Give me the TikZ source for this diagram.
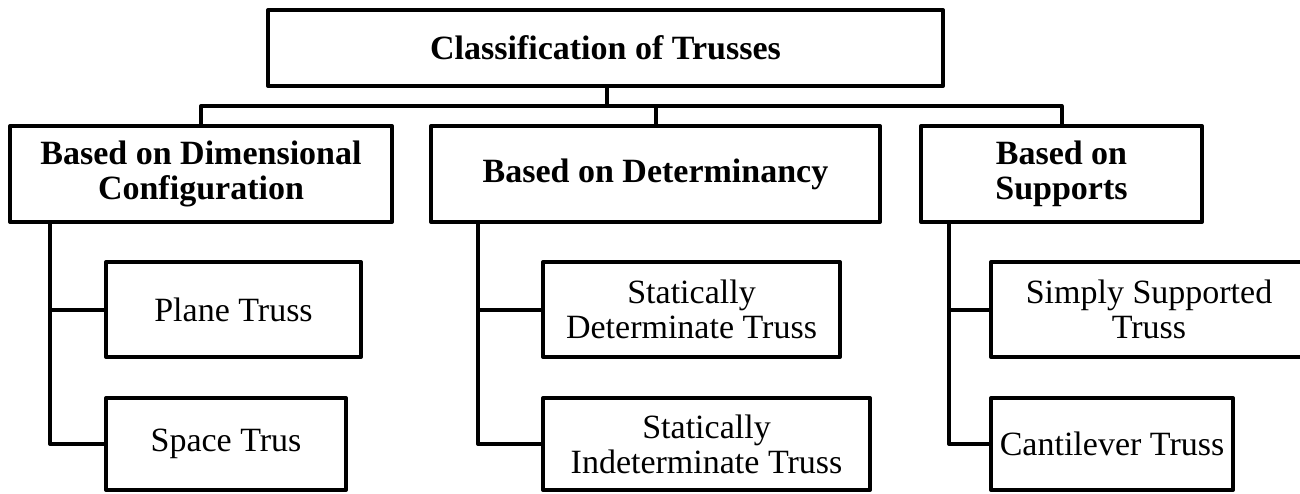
\documentclass[tikz,border=0pt]{standalone}
\usepackage{fontspec}
\setmainfont{Liberation Serif}
\begin{document}
\begin{tikzpicture}[x=1pt, y=-1pt,
  box/.style={draw, line width=4pt, line join=round, inner sep=0pt, align=center,
    font=\fontsize{34}{35}\selectfont},
  head/.style={box, font=\fontsize{34}{35}\selectfont\bfseries},
  link/.style={line width=4pt, line join=round}]
  \clip (0,0) rectangle (1300,493);

  % root
  \node[head, minimum width=675pt, minimum height=76pt] (root) at (605.5,48) {Classification of Trusses};

  % categories
  \node[head, minimum width=382pt, minimum height=96pt] (dim) at (201,174) {Based on Dimensional\\Configuration};
  \node[head, minimum width=449pt, minimum height=96pt] (det) at (655.5,174) {Based on Determinancy};
  \node[head, minimum width=281pt, minimum height=96pt] (sup) at (1061.5,174) {Based on\\Supports};

  % truss types
  \node[box, minimum width=255pt, minimum height=95pt] (plane) at (233.5,309.5) {Plane Truss};
  \node[box, minimum width=240pt, minimum height=92pt] (space) at (226,444) {Space Trus};
  \node[box, minimum width=297pt, minimum height=95pt] (sdet) at (691.5,309.5) {Statically\\Determinate Truss};
  \node[box, minimum width=327pt, minimum height=92pt] (sind) at (706.5,444) {Statically\\Indeterminate Truss};
  \node[box, minimum width=316pt, minimum height=95pt] (simp) at (1149,309.5) {Simply Supported\\Truss};
  \node[box, minimum width=242pt, minimum height=92pt] (cant) at (1112,444) {Cantilever Truss};

  % bus under the root
  \coordinate (bus) at (607,106);
  \draw[link] (root.south -| bus) -- (bus);
  \draw[link] (dim.north) |- (bus) -| (sup.north);
  \draw[link] (det.north) -- (det.north |- bus);

  % trunks down the left of each group
  \coordinate (t1) at (50,222);
  \coordinate (t2) at (478,222);
  \coordinate (t3) at (949,222);
  \draw[link] (t1) |- (space.west);
  \draw[link] (t1 |- plane.west) -- (plane.west);
  \draw[link] (t2) |- (sind.west);
  \draw[link] (t2 |- sdet.west) -- (sdet.west);
  \draw[link] (t3) |- (cant.west);
  \draw[link] (t3 |- simp.west) -- (simp.west);
\end{tikzpicture}
\end{document}
